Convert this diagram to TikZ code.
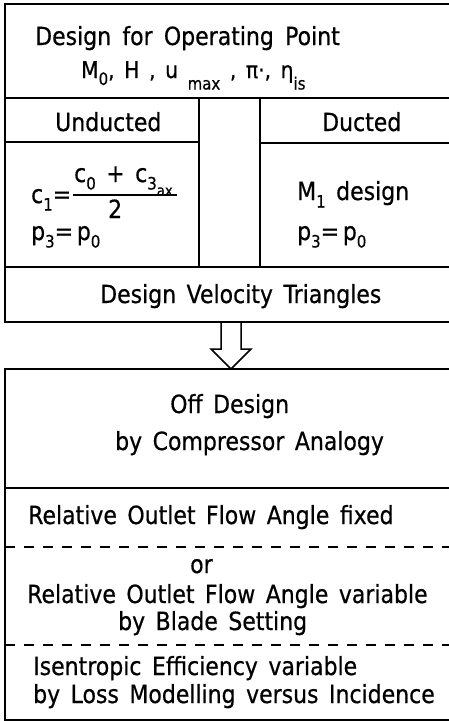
\documentclass[tikz,border=0pt]{standalone}
\usepackage{fontspec}
\setmainfont{DejaVu Sans}[FakeStretch=0.88,WordSpace=1.5,FakeBold=0.6]
\newcommand\dsub[1]{\raisebox{-0.3em}{\fontsize{17}{17}\selectfont #1}}
\newcommand\dlow[1]{\raisebox{-0.5em}{\fontsize{17}{17}\selectfont #1}}
\newcommand\lowax[1]{\raisebox{-0.55em}{\fontsize{15}{15}\selectfont #1}}
\begin{document}
\begin{tikzpicture}[x=1pt,y=-1pt,
  frame/.style={line width=1.7pt},
  thinframe/.style={line width=1.5pt},
  dashsep/.style={line width=1.4pt, dash pattern=on 10pt off 9pt},
  txt/.style={inner sep=0pt, anchor=base west, font=\fontsize{25}{28}\selectfont}]
\useasboundingbox (0,0) rectangle (449,721);
% upper box
\draw[frame] (449,4) -- (5,4) -- (5,322) -- (449,322);
\draw[frame] (5,98) -- (449,98);
\draw[frame] (199,98) -- (199,267);
\draw[frame] (260,98) -- (260,267);
\draw[frame] (5,142) -- (199,142);
\draw[frame] (260,143) -- (449,143);
\draw[frame] (5,267) -- (449,267);
% arrow
\coordinate (aL) at (221,322);
\coordinate (aR) at (241,322);
\draw[thinframe, line join=miter] (aL) -- (221,349) -- (211,349) -- (231,369) -- (251,349) -- (241,349) -- (aR);
% lower box
\draw[frame] (449,369) -- (5,369) -- (5,720) -- (449,720);
\draw[frame] (5,488) -- (449,488);
\draw[dashsep] (5,547) -- (449,547);
\draw[dashsep] (5,645) -- (449,645);
% texts
\node[txt] (t1) at (35,45) {\spaceskip=0.45em Design for Operating Point};
\node[txt, font=\fontsize{23}{26}\selectfont] (t2) at (81,78) {M\dsub{0}, H , u \dlow{max} , π·, η\dlow{is}};
\node[txt] (un) at (55,131) {Unducted};
\node[txt] (du) at (322,131) {Ducted};
\node[txt] (c1) at (31,203) {c\dsub{1}=};
\node[txt] (num) at (74,182) {c\dsub{0} + c\dsub{3}\lowax{ax}};
\draw[line width=1.3pt] (73,195) -- (177,195);
\node[txt] (den) at (108,218) {2};
\node[txt] (m1) at (297,200) {M\dsub{1} design};
\node[txt] (p1) at (31,240) {p\dsub{3}=\hspace{0.15em}p\dsub{0}};
\node[txt] (p2) at (297,240) {p\dsub{3}=\hspace{0.15em}p\dsub{0}};
\node[txt] (dvt) at (100,303) {Design Velocity Triangles};
\node[txt] (od) at (170,413) {Off Design};
\node[txt] (bca) at (115,450) {by Compressor Analogy};
\node[txt] (r1) at (28,524) {Relative Outlet Flow Angle fixed};
\node[txt] (or) at (190,573) {or};
\node[txt] (r2) at (27,603) {Relative Outlet Flow Angle variable};
\node[txt] (bbs) at (118,630) {by Blade Setting};
\node[txt] (ie) at (33,675) {Isentropic Efficiency variable};
\node[txt] (bl) at (33,703) {by Loss Modelling versus Incidence};
\end{tikzpicture}
\end{document}
